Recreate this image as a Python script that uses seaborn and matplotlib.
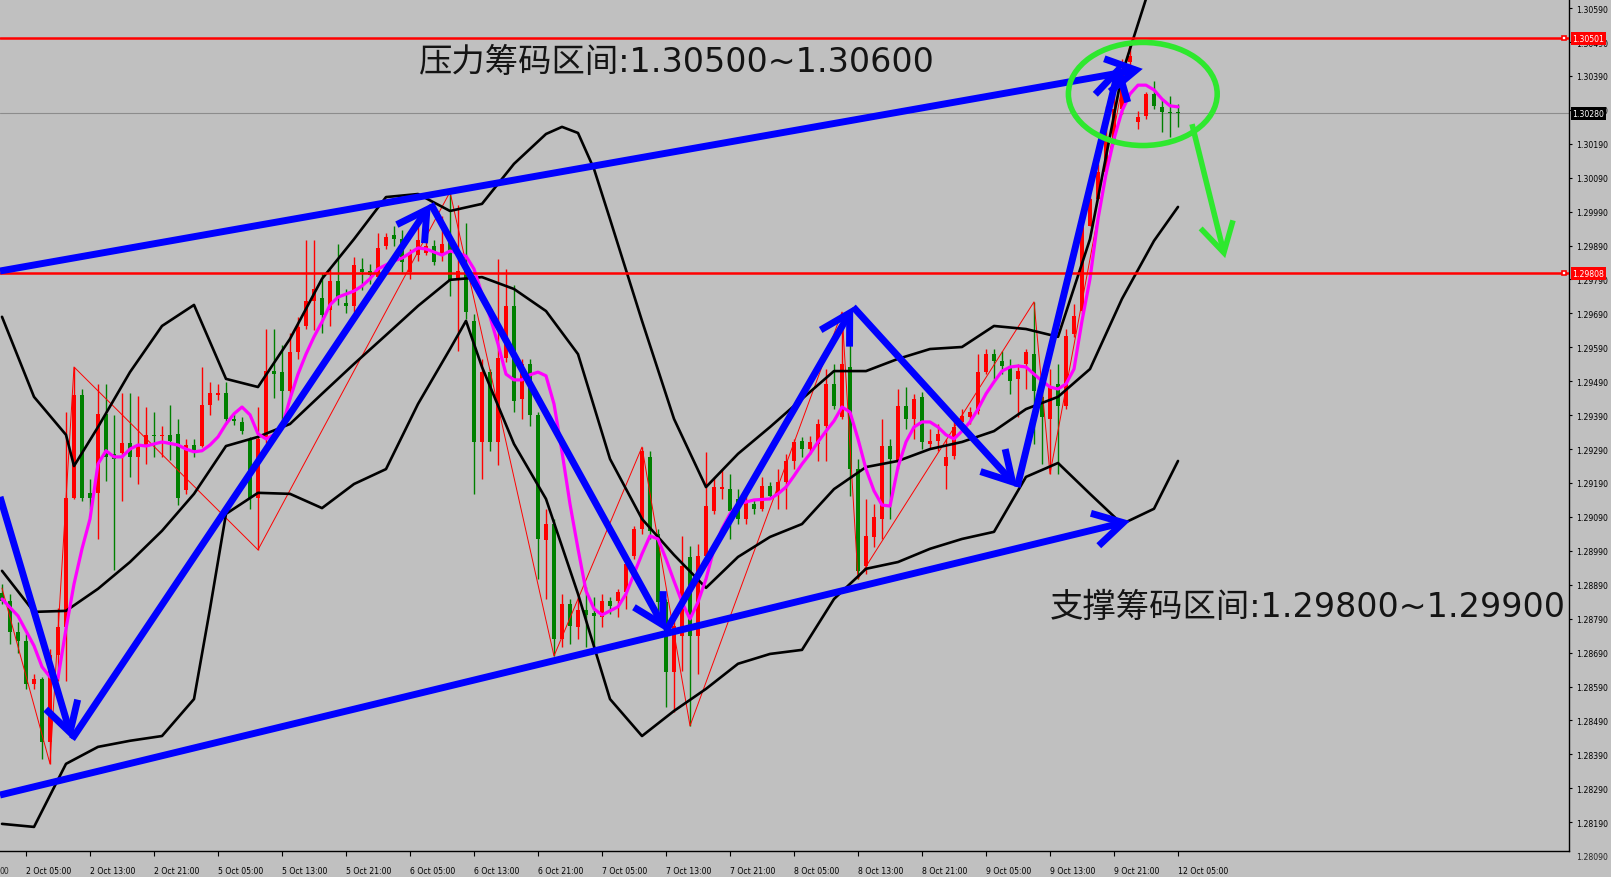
import matplotlib
matplotlib.use("Agg")
import matplotlib.pyplot as plt
from matplotlib.patches import Ellipse
import numpy as np
import pandas as pd
import seaborn as sns

# H1 candles, bar 0 = first visible bar (2 Oct 02:00)
opens = [
    1.28866, 1.28842, 1.28751, 1.28724, 1.28598, 1.28612, 1.28427, 1.28683, 1.28766, 1.29146,
    1.29450, 1.29161, 1.29161, 1.29394, 1.29276, 1.29279, 1.29308, 1.29267, 1.29302, 1.29332,
    1.29329, 1.29332, 1.29335, 1.29170, 1.29302, 1.29299, 1.29420, 1.29450, 1.29455, 1.29379,
    1.29370, 1.29320, 1.29146, 1.29320, 1.29520, 1.29517, 1.29461, 1.29576, 1.29653, 1.29727,
    1.29736, 1.29700, 1.29786, 1.29721, 1.29712, 1.29821, 1.29815, 1.29797, 1.29889, 1.29921,
    1.29909, 1.29812, 1.29862, 1.29868, 1.29889, 1.29859, 1.29907, 1.29789, 1.29815, 1.29668,
    1.29311, 1.29517, 1.29311, 1.29559, 1.29712, 1.29438, 1.29541, 1.29391, 1.29022, 1.29069,
    1.28730, 1.28833, 1.28766, 1.28816, 1.28807, 1.28795, 1.28842, 1.28842, 1.28869, 1.28975,
    1.29055, 1.29267, 1.29040, 1.28839, 1.28633, 1.28739, 1.28972, 1.28739, 1.28975, 1.29108,
    1.29173, 1.29173, 1.29143, 1.29084, 1.29128, 1.29114, 1.29181, 1.29161, 1.29193, 1.29255,
    1.29314, 1.29290, 1.29305, 1.29358, 1.29482, 1.29385, 1.29532, 1.29231, 1.28945, 1.29031,
    1.29084, 1.29299, 1.29255, 1.29417, 1.29379, 1.29444, 1.29305, 1.29314, 1.29240, 1.29270,
    1.29370, 1.29385, 1.29402, 1.29517, 1.29570, 1.29550, 1.29532, 1.29497, 1.29541, 1.29570,
    1.29444, 1.29379, 1.29482, 1.29417, 1.29629, 1.29697, 1.29948, 1.30027, 1.30107, 1.30204,
    1.30293, 1.30431, 1.30254, 1.30272, 1.30337, 1.30299, 1.30284, 1.30284,
]
highs = [
    1.28892, 1.28863, 1.28780, 1.28745, 1.28627, 1.28618, 1.28701, 1.28822, 1.29399, 1.29532,
    1.29467, 1.29202, 1.29482, 1.29482, 1.29391, 1.29455, 1.29455, 1.29447, 1.29414, 1.29399,
    1.29358, 1.29420, 1.29379, 1.29320, 1.29320, 1.29532, 1.29488, 1.29482, 1.29488, 1.29394,
    1.29385, 1.29326, 1.29414, 1.29644, 1.29644, 1.29597, 1.29632, 1.29680, 1.29907, 1.29907,
    1.29809, 1.29821, 1.29895, 1.29762, 1.29856, 1.29853, 1.29836, 1.29927, 1.29927, 1.29948,
    1.29936, 1.29880, 1.29954, 1.29909, 1.29907, 1.29977, 1.30048, 1.30010, 1.29957, 1.29688,
    1.29556, 1.29526, 1.29851, 1.29821, 1.29774, 1.29556, 1.29556, 1.29399, 1.29114, 1.29084,
    1.28863, 1.28848, 1.28854, 1.28884, 1.28854, 1.28863, 1.28854, 1.28878, 1.28966, 1.29064,
    1.29296, 1.29285, 1.29055, 1.28848, 1.28789, 1.29034, 1.29004, 1.29010, 1.29282, 1.29208,
    1.29231, 1.29217, 1.29173, 1.29158, 1.29143, 1.29208, 1.29193, 1.29231, 1.29276, 1.29320,
    1.29326, 1.29329, 1.29379, 1.29526, 1.29541, 1.29694, 1.29629, 1.29261, 1.29143, 1.29128,
    1.29379, 1.29320, 1.29467, 1.29473, 1.29453, 1.29458, 1.29349, 1.29364, 1.29320, 1.29385,
    1.29408, 1.29414, 1.29570, 1.29585, 1.29585, 1.29579, 1.29556, 1.29541, 1.29585, 1.29724,
    1.29467, 1.29526, 1.29541, 1.29644, 1.29718, 1.29968, 1.30042, 1.30131, 1.30302, 1.30366,
    1.30440, 1.30484, 1.30287, 1.30343, 1.30375, 1.30322, 1.30331, 1.30307,
]
lows = [
    1.28833, 1.28716, 1.28689, 1.28583, 1.28583, 1.28377, 1.28362, 1.28606, 1.28606, 1.29143,
    1.29137, 1.29114, 1.29025, 1.29196, 1.28934, 1.29137, 1.29208, 1.29187, 1.29246, 1.29267,
    1.29267, 1.29258, 1.29125, 1.29158, 1.29267, 1.29295, 1.29391, 1.29435, 1.29364, 1.29361,
    1.29335, 1.29114, 1.28993, 1.29308, 1.29441, 1.29349, 1.29438, 1.29556, 1.29644, 1.29641,
    1.29632, 1.29653, 1.29715, 1.29691, 1.29694, 1.29759, 1.29777, 1.29780, 1.29880, 1.29889,
    1.29812, 1.29792, 1.29845, 1.29862, 1.29833, 1.29845, 1.29741, 1.29579, 1.29674, 1.29158,
    1.29202, 1.29285, 1.29243, 1.29547, 1.29399, 1.29379, 1.29358, 1.28907, 1.28848, 1.28680,
    1.28707, 1.28716, 1.28730, 1.28707, 1.28707, 1.28766, 1.28804, 1.28795, 1.28819, 1.28966,
    1.29040, 1.29025, 1.28789, 1.28530, 1.28515, 1.28636, 1.28474, 1.28627, 1.28966, 1.29099,
    1.29143, 1.29025, 1.29069, 1.29069, 1.29099, 1.29108, 1.29143, 1.29114, 1.29114, 1.29231,
    1.29267, 1.29276, 1.29255, 1.29255, 1.29408, 1.29379, 1.29152, 1.28907, 1.28922, 1.29001,
    1.29025, 1.29084, 1.29231, 1.29349, 1.29320, 1.29290, 1.29290, 1.29285, 1.29173, 1.29261,
    1.29364, 1.29364, 1.29394, 1.29511, 1.29497, 1.29511, 1.29453, 1.29385, 1.29467, 1.29305,
    1.29246, 1.29217, 1.29217, 1.29408, 1.29620, 1.29688, 1.29948, 1.30027, 1.30101, 1.30190,
    1.30278, 1.30411, 1.30234, 1.30263, 1.30293, 1.30225, 1.30210, 1.30240,
]
closes = [
    1.28842, 1.28751, 1.28724, 1.28598, 1.28612, 1.28427, 1.28683, 1.28766, 1.29146, 1.29450,
    1.29146, 1.29146, 1.29394, 1.29267, 1.29261, 1.29308, 1.29267, 1.29299, 1.29332, 1.29329,
    1.29332, 1.29314, 1.29146, 1.29302, 1.29287, 1.29420, 1.29455, 1.29455, 1.29379, 1.29373,
    1.29343, 1.29146, 1.29320, 1.29520, 1.29511, 1.29461, 1.29576, 1.29650, 1.29727, 1.29762,
    1.29685, 1.29786, 1.29736, 1.29712, 1.29833, 1.29812, 1.29803, 1.29883, 1.29915, 1.29909,
    1.29842, 1.29868, 1.29907, 1.29889, 1.29842, 1.29895, 1.29789, 1.29815, 1.29694, 1.29311,
    1.29517, 1.29311, 1.29559, 1.29712, 1.29432, 1.29541, 1.29391, 1.29025, 1.29069, 1.28730,
    1.28833, 1.28769, 1.28816, 1.28801, 1.28798, 1.28842, 1.28828, 1.28869, 1.28951, 1.29055,
    1.29285, 1.29049, 1.28839, 1.28633, 1.28769, 1.28945, 1.28739, 1.28975, 1.29122, 1.29178,
    1.29178, 1.29108, 1.29084, 1.29134, 1.29114, 1.29181, 1.29152, 1.29193, 1.29255, 1.29311,
    1.29290, 1.29311, 1.29364, 1.29482, 1.29417, 1.29541, 1.29231, 1.28931, 1.29034, 1.29090,
    1.29299, 1.29261, 1.29417, 1.29379, 1.29438, 1.29311, 1.29314, 1.29335, 1.29267, 1.29355,
    1.29388, 1.29399, 1.29517, 1.29570, 1.29550, 1.29535, 1.29491, 1.29520, 1.29576, 1.29461,
    1.29385, 1.29473, 1.29417, 1.29624, 1.29682, 1.29948, 1.30027, 1.30107, 1.30204, 1.30293,
    1.30411, 1.30449, 1.30269, 1.30337, 1.30302, 1.30284, 1.30281, 1.30280,
]

# Bollinger bands
upper_bars = [0, 4, 8, 9, 12, 16, 20, 24, 28, 32, 36, 40, 44, 48, 52, 56, 60, 64, 68, 70,
              72, 74, 76, 80, 84, 88, 92, 96, 100, 104, 108, 112, 116, 120, 124, 128, 132, 136,
              140, 144, 147]
bb_upper = [1.29680, 1.29444, 1.29332, 1.29240, 1.29355, 1.29517, 1.29653, 1.29715, 1.29497, 1.29473,
            1.29615, 1.29792, 1.29909, 1.30033, 1.30042, 1.29992, 1.30013, 1.30131, 1.30219, 1.30240,
            1.30222, 1.30116, 1.29968, 1.29668, 1.29379, 1.29178, 1.29276, 1.29355, 1.29438, 1.29520,
            1.29520, 1.29556, 1.29585, 1.29591, 1.29653, 1.29644, 1.29621, 1.29909, 1.30396, 1.30691,
            1.30753]
middle_bars = [0, 4, 8, 12, 16, 20, 24, 28, 32, 36, 40, 44, 48, 52, 56, 60, 64, 68, 72,
               76, 80, 84, 88, 92, 96, 100, 104, 108, 112, 116, 120, 124, 128, 132, 136, 140, 144, 147]
bb_middle = [1.28931, 1.28810, 1.28813, 1.28878, 1.28957, 1.29049, 1.29158, 1.29299, 1.29326, 1.29364,
             1.29453, 1.29541, 1.29626, 1.29712, 1.29789, 1.29797, 1.29762, 1.29697, 1.29570, 1.29261,
             1.29084, 1.28978, 1.28881, 1.28972, 1.29031, 1.29069, 1.29172, 1.29237, 1.29255, 1.29290,
             1.29311, 1.29343, 1.29408, 1.29444, 1.29526, 1.29733, 1.29904, 1.30004]
lower_bars = [0, 4, 8, 12, 16, 20, 24, 26, 28, 32, 36, 40, 44, 48, 52, 56, 58, 60, 64, 68, 72,
              76, 80, 84, 88, 92, 96, 100, 104, 108, 112, 116, 120, 124, 128, 132, 136, 140, 144, 147]
bb_lower = [1.28185, 1.28176, 1.28362, 1.28412, 1.28430, 1.28444, 1.28553, 1.28819, 1.29099, 1.29161,
            1.29158, 1.29116, 1.29187, 1.29231, 1.29423, 1.29585, 1.29668, 1.29532, 1.29305, 1.29143,
            1.28863, 1.28553, 1.28444, 1.28518, 1.28583, 1.28657, 1.28686, 1.28698, 1.28848, 1.28937,
            1.28957, 1.28996, 1.29025, 1.29046, 1.29208, 1.29249, 1.29158, 1.29069, 1.29114, 1.29255]

# fast moving average (magenta)
ma_bars = [0, 2, 4, 5, 6, 7, 8, 9, 10, 11, 12, 13, 14, 15, 16, 17, 18, 20, 22, 23,
           24, 25, 26, 27, 28, 29, 30, 31, 32, 33, 34, 35, 36, 37, 38, 39, 40, 41, 42, 43,
           44, 45, 46, 47, 48, 49, 50, 51, 52, 53, 54, 55, 56, 57, 58, 59, 60, 61, 62, 63,
           64, 65, 66, 67, 68, 69, 70, 71, 72, 73, 74, 75, 76, 77, 78, 79, 80, 81, 82, 83,
           84, 85, 86, 87, 88, 89, 90, 91, 92, 94, 96, 97, 98, 99, 100, 101, 102, 103, 104, 105,
           106, 107, 108, 109, 110, 111, 112, 113, 114, 115, 116, 117, 118, 119, 120, 121, 122, 123, 124, 125,
           126, 127, 128, 129, 130, 131, 132, 133, 134, 135, 136, 137, 138, 139, 140, 141, 142, 143, 144, 145,
           146, 147]
ma_values = [1.28848, 1.28798, 1.28710, 1.28648, 1.28618, 1.28615, 1.28760, 1.28892, 1.28996, 1.29084,
             1.29246, 1.29285, 1.29267, 1.29267, 1.29290, 1.29302, 1.29299, 1.29311, 1.29302, 1.29290,
             1.29282, 1.29285, 1.29302, 1.29326, 1.29364, 1.29394, 1.29414, 1.29391, 1.29335, 1.29320,
             1.29332, 1.29355, 1.29438, 1.29511, 1.29570, 1.29621, 1.29665, 1.29715, 1.29738, 1.29747,
             1.29756, 1.29771, 1.29792, 1.29821, 1.29833, 1.29845, 1.29853, 1.29868, 1.29883, 1.29880,
             1.29871, 1.29862, 1.29874, 1.29868, 1.29859, 1.29821, 1.29747, 1.29680, 1.29600, 1.29511,
             1.29494, 1.29494, 1.29509, 1.29517, 1.29506, 1.29423, 1.29282, 1.29128, 1.28996, 1.28872,
             1.28819, 1.28801, 1.28813, 1.28825, 1.28863, 1.28922, 1.28981, 1.29034, 1.29025, 1.28966,
             1.28901, 1.28839, 1.28789, 1.28839, 1.28907, 1.28996, 1.29055, 1.29099, 1.29128, 1.29140,
             1.29143, 1.29158, 1.29178, 1.29211, 1.29246, 1.29276, 1.29311, 1.29343, 1.29373, 1.29414,
             1.29399, 1.29320, 1.29231, 1.29167, 1.29125, 1.29122, 1.29237, 1.29311, 1.29355, 1.29370,
             1.29370, 1.29355, 1.29332, 1.29320, 1.29343, 1.29370, 1.29408, 1.29453, 1.29488, 1.29520,
             1.29532, 1.29535, 1.29532, 1.29511, 1.29491, 1.29473, 1.29467, 1.29482, 1.29526, 1.29668,
             1.29792, 1.29968, 1.30101, 1.30204, 1.30287, 1.30337, 1.30363, 1.30363, 1.30349, 1.30322,
             1.30302, 1.30299]

# zigzag swing points
zigzag_bars = [0, 6, 9, 32, 56, 69, 80, 86, 105, 107, 129, 131, 141]
zigzag_values = [1.28880, 1.28362, 1.29532, 1.28993, 1.30048, 1.28680, 1.29296, 1.28474,
                 1.29694, 1.28907, 1.29724, 1.29217, 1.30484]

# hand drawn analysis lines (bar, price)
channel_top = [(-0.25, 1.29815), (142.6, 1.30411)]
channel_bottom = [(-0.25, 1.28270), (141.0, 1.29078)]
swing_bars = [-0.25, 8.75, 53.6, 83.0, 106.4, 126.9, 139.75]
swing_prices = [1.29149, 1.28435, 1.30013, 1.28754, 1.29709, 1.29178, 1.30428]
down_arrow = [(148.75, 1.30248), (152.9, 1.29853)]
top_circle = (142.6, 1.30337)

resistance = 1.30501
support = 1.29808
last_price = 1.30280

resist_text = "压力筹码区间:1.30500~1.30600"
support_text = "支撑筹码区间:1.29800~1.29900"

price_ticks = [1.28190, 1.28290, 1.28390, 1.28490, 1.28590, 1.28690, 1.28790, 1.28890,
               1.28990, 1.29090, 1.29190, 1.29290, 1.29390, 1.29490, 1.29590, 1.29690,
               1.29790, 1.29890, 1.29990, 1.30090, 1.30190, 1.30290, 1.30390, 1.30490, 1.30590]
time_tick_bars = [3, 11, 19, 27, 35, 43, 51, 59, 67, 75, 83, 91, 99, 107, 115, 123, 131, 139, 147]
time_tick_labels = ["2 Oct 05:00", "2 Oct 13:00", "2 Oct 21:00", "5 Oct 05:00", "5 Oct 13:00",
                    "5 Oct 21:00", "6 Oct 05:00", "6 Oct 13:00", "6 Oct 21:00", "7 Oct 05:00",
                    "7 Oct 13:00", "7 Oct 21:00", "8 Oct 05:00", "8 Oct 13:00", "8 Oct 21:00",
                    "9 Oct 05:00", "9 Oct 13:00", "9 Oct 21:00", "12 Oct 05:00"]
edge_tick_label = "00"   # tail of the "1 Oct 21:00" label that is cut by the left edge

BG = "#c0c0c0"
UP = "#ff0000"
DOWN = "#008000"
BLUE = "#0000ff"
LIME = "#2ee82e"

sns.set_theme(style="white", rc={"axes.facecolor": BG, "figure.facecolor": BG})
plt.rcParams["font.family"] = ["Noto Sans CJK SC", "DejaVu Sans"]

fig = plt.figure(figsize=(16.11, 8.78), dpi=100)
ax = fig.add_axes([0, 26 / 878, 1569 / 1611, 852 / 878])
ax.set_facecolor(BG)

# candles
o = np.array(opens)
h = np.array(highs)
l = np.array(lows)
c = np.array(closes)
bars = np.arange(len(o))
col = np.where(c >= o, UP, DOWN)
ax.vlines(bars, l, h, colors=col, linewidth=1.0, zorder=2)
body_lo = np.minimum(o, c)
body_h = np.maximum(np.abs(c - o), 0.00003)
ax.bar(bars, body_h, bottom=body_lo, width=0.62, color=col, linewidth=0, zorder=2.1)

# zigzag
zz = pd.DataFrame({"bar": zigzag_bars, "price": zigzag_values})
sns.lineplot(data=zz, x="bar", y="price", ax=ax, color="#ff0000", linewidth=0.7,
             estimator=None, sort=False, zorder=2.5)

# bollinger bands
for bx, by in [(upper_bars, bb_upper), (middle_bars, bb_middle), (lower_bars, bb_lower)]:
    df = pd.DataFrame({"bar": bx, "price": by})
    sns.lineplot(data=df, x="bar", y="price", ax=ax, color="black", linewidth=1.9,
                 estimator=None, zorder=3)

# moving average
ma = pd.DataFrame({"bar": ma_bars, "price": ma_values})
sns.lineplot(data=ma, x="bar", y="price", ax=ax, color="#ff00ff", linewidth=2.3,
             estimator=None, zorder=3.5)

# horizontal levels
ax.axhline(resistance, color="#ff0000", linewidth=1.8, zorder=3.6)
ax.axhline(support, color="#ff0000", linewidth=1.8, zorder=3.6)
ax.axhline(last_price, color="#8c8c8c", linewidth=0.8, zorder=1.5)


def arrow(p0, p1, color, lw, z):
    ax.annotate("", xy=p1, xytext=p0, annotation_clip=False, zorder=z,
                arrowprops=dict(arrowstyle="->,head_length=1.05,head_width=0.6",
                                color=color, lw=lw, mutation_scale=20,
                                shrinkA=0, shrinkB=0, joinstyle="miter", capstyle="butt"))


arrow(channel_top[0], channel_top[1], BLUE, 5, 5)
arrow(channel_bottom[0], channel_bottom[1], BLUE, 5, 5)
for k in range(len(swing_bars) - 1):
    arrow((swing_bars[k], swing_prices[k]), (swing_bars[k + 1], swing_prices[k + 1]), BLUE, 5, 5)

ax.add_patch(Ellipse(top_circle, width=18.6, height=0.00304, fill=False,
                     edgecolor=LIME, linewidth=4, zorder=6))
arrow(down_arrow[0], down_arrow[1], LIME, 4, 6)

note_font = ["DejaVu Sans", "Noto Sans CJK SC"]
ax.text(52.1, 1.30434, resist_text, fontsize=24, family=note_font, color="#141414",
        ha="left", va="center", zorder=7)
ax.text(131.0, 1.28825, support_text, fontsize=24, family=note_font, color="#141414",
        ha="left", va="center", zorder=7)

# axes
ax.set_xlim(-0.25, 195.875)
ax.set_ylim(1.28105, 1.30617)
ax.set_xlabel("")
ax.set_ylabel("")
for s in ["left", "top"]:
    ax.spines[s].set_visible(False)
for s in ["right", "bottom"]:
    ax.spines[s].set_color("black")
    ax.spines[s].set_linewidth(1.0)

ax.yaxis.tick_right()
ax.set_yticks(price_ticks)
ax.set_yticklabels([f"{v:.5f}" for v in price_ticks], family="DejaVu Sans", fontsize=5.6)
ax.tick_params(axis="y", direction="out", length=2, width=0.8, pad=3, colors="black", right=True, left=False)
ax.set_xticks(time_tick_bars)
ax.set_xticklabels(time_tick_labels, family="DejaVu Sans", fontsize=5.6, ha="left")
ax.tick_params(axis="x", direction="out", length=3.5, width=0.8, pad=7, colors="black", bottom=True)
ax.annotate(edge_tick_label, xy=(0, 0), xycoords="axes fraction",
            xytext=(0, -10.5), textcoords="offset points", ha="left", va="top",
            fontsize=5.6, family="DejaVu Sans", annotation_clip=False)
ax.annotate("1.28090", xy=(1, 1.28090), xycoords=("axes fraction", "data"),
            xytext=(5, 0), textcoords="offset points", ha="left", va="center",
            fontsize=5.6, family="DejaVu Sans", annotation_clip=False)

# price tags on the scale
for val, fc in [(resistance, "#ff0000"), (support, "#ff0000"), (last_price, "black")]:
    ax.annotate(f"{val:.5f}", xy=(1, val), xycoords=("axes fraction", "data"),
                xytext=(2.5, 0), textcoords="offset points", ha="left", va="center",
                fontsize=5.6, family="DejaVu Sans", color="white", annotation_clip=False,
                bbox=dict(boxstyle="square,pad=0.25", fc=fc, ec="none"), zorder=8)
for val in [resistance, support]:
    ax.plot(195.3, val, marker="s", markersize=3.5, markerfacecolor="white",
            markeredgecolor="#ff0000", markeredgewidth=1.2, zorder=4, clip_on=False)

fig.savefig("out.png", dpi=100, facecolor=BG)
